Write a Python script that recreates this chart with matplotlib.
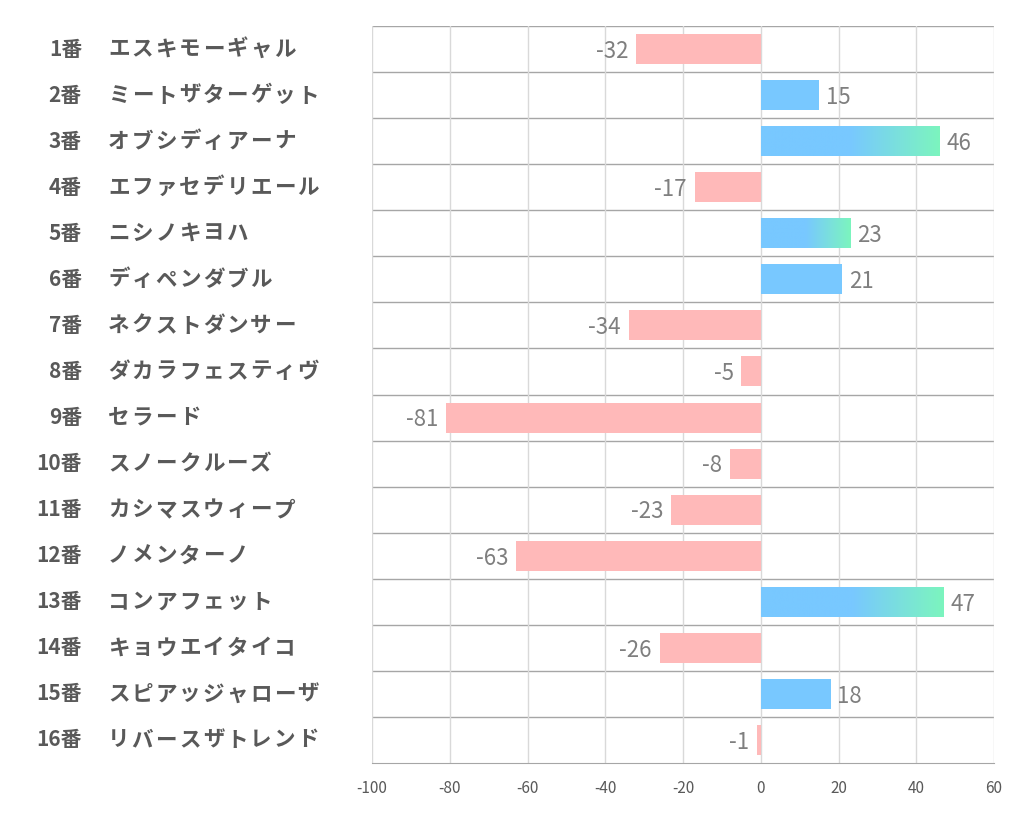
import numpy as np
import matplotlib.pyplot as plt
import matplotlib.transforms as mtransforms
from matplotlib.colors import LinearSegmentedColormap

plt.rcParams['font.family'] = ['Noto Sans CJK JP', 'DejaVu Sans']

# data
numbers = ["1番", "2番", "3番", "4番", "5番", "6番", "7番", "8番",
           "9番", "10番", "11番", "12番", "13番", "14番", "15番", "16番"]
names = ["エスキモーギャル", "ミートザターゲット", "オブシディアーナ", "エファセデリエール",
         "ニシノキヨハ", "ディペンダブル", "ネクストダンサー", "ダカラフェスティヴ",
         "セラード", "スノークルーズ", "カシマスウィープ", "ノメンターノ",
         "コンアフェット", "キョウエイタイコ", "スピアッジャローザ", "リバースザトレンド"]
values = [-32, 15, 46, -17, 23, 21, -34, -5, -81, -8, -23, -63, 47, -26, 18, -1]
xticks = [-100, -80, -60, -40, -20, 0, 20, 40, 60]

pink = "#FFB9B9"
blue = "#78C8FF"
green = "#7CF5BE"
grad = LinearSegmentedColormap.from_list("bg", [blue, blue, green])

fig = plt.figure(figsize=(10.21, 8.34), dpi=100)
ax = fig.add_axes([372/1021, 1 - 763/834, (994-372)/1021, (763-26)/834])

bar_h = 0.65
for i, v in enumerate(values):
    if v < 0:
        ax.barh(i, v, height=bar_h, color=pink, zorder=3)
    elif v > 22:
        g = np.linspace(0, 1, 256).reshape(1, -1)
        ax.imshow(g, cmap=grad, extent=[0, v, i + bar_h/2, i - bar_h/2],
                  aspect='auto', zorder=3, interpolation='bilinear')
    else:
        ax.barh(i, v, height=bar_h, color=blue, zorder=3)
    if v < 0:
        ax.text(v - 2.0, i + 0.05, str(v), ha='right', va='center',
                fontsize=16, color='#7F7F7F', zorder=4)
    else:
        ax.text(v + 1.7, i + 0.05, str(v), ha='left', va='center',
                fontsize=16, color='#7F7F7F', zorder=4)

ax.set_xlim(-100, 60)
ax.set_ylim(15.5, -0.5)
ax.set_xticks(xticks)
ax.set_xticklabels([str(t) for t in xticks], fontsize=11, color='#595959')
ax.set_yticks([])
ax.tick_params(axis='x', length=0, pad=12)
ax.grid(axis='x', color='#D9D9D9', lw=1, zorder=0)
for b in np.arange(-0.5, 15.0, 1.0):
    ax.axhline(b, color='#A6A6A6', lw=1, zorder=1)
for s in ['top', 'left', 'right']:
    ax.spines[s].set_visible(False)
ax.spines['bottom'].set_color('#A6A6A6')

# row labels on the left, names spaced out a little like the original
trans = mtransforms.blended_transform_factory(fig.transFigure, ax.transData)
step = 23.7 / 1021
for i in range(len(values)):
    ax.text(82/1021, i, numbers[i], transform=trans, ha='right', va='center',
            fontsize=15, fontweight='bold', color='#595959')
    for k, ch in enumerate(names[i]):
        ax.text(108/1021 + k * step, i, ch, transform=trans, ha='left', va='center',
                fontsize=15.5, fontweight='bold', color='#595959')

fig.savefig("out.png", dpi=100)
